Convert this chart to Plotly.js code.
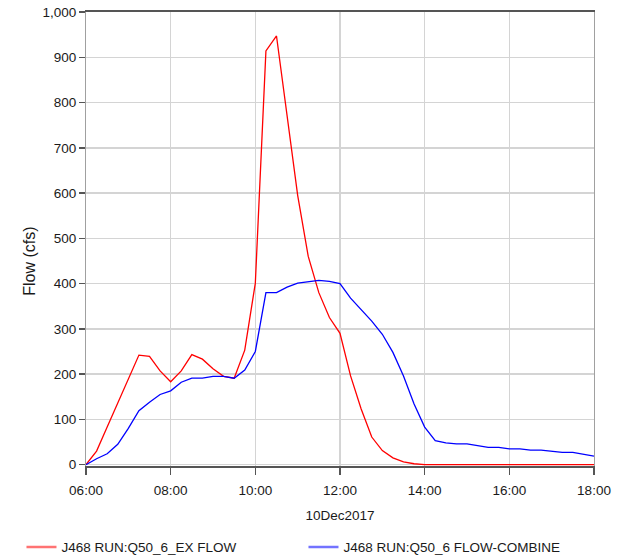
<!DOCTYPE html>
<html>
<head>
<meta charset="utf-8">
<script src="https://cdn.plot.ly/plotly-3.0.1.min.js"></script>
<style>html,body{margin:0;padding:0;background:#fff;}#chart{width:619px;height:557px;}</style>
</head>
<body>
<div id="chart"></div>
<script>
var times = [
"2017-12-10 06:00","2017-12-10 06:15","2017-12-10 06:30","2017-12-10 06:45",
"2017-12-10 07:00","2017-12-10 07:15","2017-12-10 07:30","2017-12-10 07:45",
"2017-12-10 08:00","2017-12-10 08:15","2017-12-10 08:30","2017-12-10 08:45",
"2017-12-10 09:00","2017-12-10 09:15","2017-12-10 09:30","2017-12-10 09:45",
"2017-12-10 10:00","2017-12-10 10:15","2017-12-10 10:30","2017-12-10 10:45",
"2017-12-10 11:00","2017-12-10 11:15","2017-12-10 11:30","2017-12-10 11:45",
"2017-12-10 12:00","2017-12-10 12:15","2017-12-10 12:30","2017-12-10 12:45",
"2017-12-10 13:00","2017-12-10 13:15","2017-12-10 13:30","2017-12-10 13:45",
"2017-12-10 14:00","2017-12-10 14:15","2017-12-10 14:30","2017-12-10 14:45",
"2017-12-10 15:00","2017-12-10 15:15","2017-12-10 15:30","2017-12-10 15:45",
"2017-12-10 16:00","2017-12-10 16:15","2017-12-10 16:30","2017-12-10 16:45",
"2017-12-10 17:00","2017-12-10 17:15","2017-12-10 17:30","2017-12-10 17:45",
"2017-12-10 18:00"];

var exFlow = [0,30,83,136,189,242,239,207,183,207,243,233,212,195,191,253,
  401,914,947,770,595,460,380,325,290,196,123,61,31,15,6,2,
  0,0,0,0,0,0,0,0,0,0,0,0,0,0,0,0,0];

var flowCombine = [0,13,24,45,80,119,138,155,163,182,191,191,195,195,191,209,
  250,380,380,392,401,404,407,405,400,368,343,317,288,248,196,134,
  83,53,48,46,46,42,38,38,35,35,32,32,30,27,27,23,19];

var seriesNames = ["J468 RUN:Q50_6_EX FLOW", "J468 RUN:Q50_6 FLOW-COMBINE"];
var tickVals = ["2017-12-10 06:00","2017-12-10 08:00","2017-12-10 10:00","2017-12-10 12:00",
  "2017-12-10 14:00","2017-12-10 16:00","2017-12-10 18:00"];
var tickText = ["06:00","08:00","10:00","12:00","14:00","16:00","18:00"];
var yTickVals = [0,100,200,300,400,500,600,700,800,900,1000];
var yTickText = ["0","100","200","300","400","500","600","700","800","900","1,000"];

var traces = [
  {x: times, y: exFlow, type: 'scatter', mode: 'lines', name: seriesNames[0],
   line: {color: '#ff0000', width: 1.3}, showlegend: false},
  {x: times, y: flowCombine, type: 'scatter', mode: 'lines', name: seriesNames[1],
   line: {color: '#0000ff', width: 1.3}, showlegend: false},
  {x: [null], y: [null], type: 'scatter', mode: 'lines', name: seriesNames[0],
   line: {color: '#ff7373', width: 2.5}},
  {x: [null], y: [null], type: 'scatter', mode: 'lines', name: seriesNames[1],
   line: {color: '#7373ff', width: 2.5}}
];

var layout = {
  width: 619, height: 557,
  margin: {l: 86, r: 25, t: 12, b: 91, autoexpand: false},
  paper_bgcolor: '#fff', plot_bgcolor: '#fff',
  font: {family: 'Liberation Sans, Arial, sans-serif', size: 13.5, color: '#1a1a1a'},
  showlegend: true,
  legend: {orientation: 'h', x: -0.127, xanchor: 'left', y: -0.145, yanchor: 'top',
    entrywidth: 237, entrywidthmode: 'pixels', font: {size: 13.5, color: '#1a1a1a'},
    bgcolor: 'rgba(0,0,0,0)'},
  xaxis: {
    type: 'date', range: ["2017-12-10 06:00", "2017-12-10 18:00"],
    tickvals: tickVals, ticktext: tickText,
    showgrid: true, gridcolor: '#d4d4d4', gridwidth: 1.5,
    showline: true, linecolor: '#555', linewidth: 2, mirror: true,
    ticks: 'outside', ticklen: 7, tickcolor: '#555', tickwidth: 1.5,
    ticklabelstandoff: 4,
    tickfont: {size: 13.5, color: '#1a1a1a'},
    title: {text: '10Dec2017', font: {size: 13.5, color: '#1a1a1a'}, standoff: 13},
    zeroline: false, layer: 'below traces', fixedrange: true
  },
  yaxis: {
    range: [-3, 1000], tickvals: yTickVals, ticktext: yTickText,
    showgrid: true, gridcolor: '#d4d4d4', gridwidth: 1.5,
    showline: true, linecolor: '#a0a0a0', linewidth: 1, mirror: true,
    ticks: 'outside', ticklen: 6, tickcolor: '#555', tickwidth: 1.5,
    tickfont: {size: 13.5, color: '#1a1a1a'},
    zeroline: false, layer: 'below traces', fixedrange: true
  },
  annotations: [{
    text: 'Flow (cfs)', textangle: -90, xref: 'paper', yref: 'paper',
    x: -0.11, y: 0.45, xanchor: 'center', yanchor: 'middle', showarrow: false,
    font: {size: 16, color: '#1a1a1a'}
  }]
};

Plotly.newPlot('chart', traces, layout, {displayModeBar: false, staticPlot: true});
</script>
</body>
</html>
